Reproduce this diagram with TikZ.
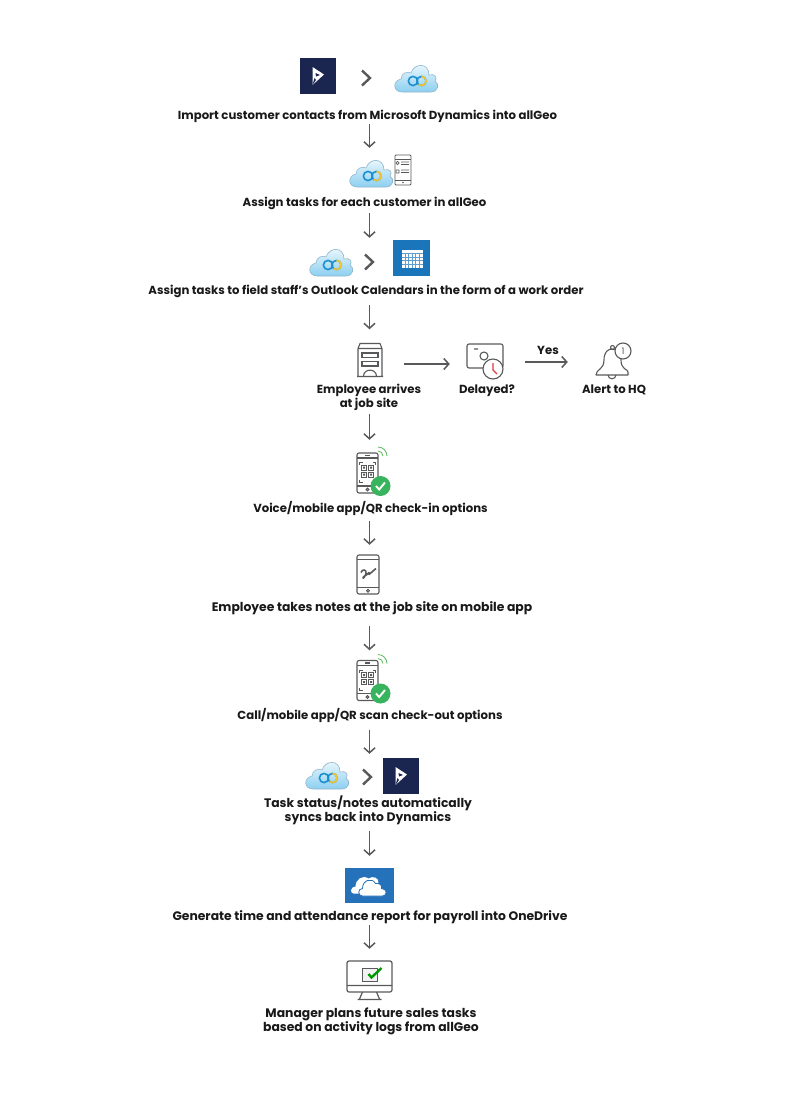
\documentclass[tikz,border=0pt]{standalone}
\usepackage{fontspec}
\setmainfont{Poppins}
\usetikzlibrary{arrows.meta}
\definecolor{linegray}{HTML}{58595B}
\definecolor{navy}{HTML}{1A2550}
\definecolor{msblue}{HTML}{1A75BB}
\definecolor{drive}{HTML}{2672BA}
\definecolor{okgreen}{HTML}{38B35E}
\definecolor{cloudtop}{HTML}{F2FAFE}
\definecolor{cloudlow}{HTML}{8CCFF0}
\definecolor{cloudline}{HTML}{8FB6CC}
\definecolor{ringblue}{HTML}{1C8FD0}
\definecolor{ringgold}{HTML}{F7C52B}
\definecolor{wifigreen}{HTML}{5CB85C}
\definecolor{handred}{HTML}{E0393E}
\tikzset{
  pics/geocloud/.style={code={
    \path[draw=cloudline, line width=0.6pt, top color=cloudtop, bottom color=cloudlow]
      (-14,14) .. controls (-23,14) and (-24,3) .. (-15,1)
      .. controls (-15,-5) and (-8,-7) .. (-5,-5)
      .. controls (-2,-15) and (13,-16) .. (13,-3)
      .. controls (19,-5) and (22,0) .. (19,3)
      .. controls (24,6) and (22,14) .. (15,14) -- cycle;
    \draw[line width=1.6pt, ringblue] (-3,3) circle[radius=4.6];
    \draw[line width=1.6pt, ringblue] (5.5,3) circle[radius=4.6];
    \draw[line width=1.6pt, ringgold] (5.5,-1.6) arc[start angle=-90, end angle=130, radius=4.6];
  }},
  pics/dynlogo/.style={code={
    \fill[navy] (-18,-18) rectangle (18,18);
    \fill[white] (-5.5,-9) -- (6,-1.5) -- (-5.5,9) -- cycle;
    \fill[navy] (-2.5,-3) -- (2,-1) -- (-2,0.5) -- cycle;
    \fill[navy] (-5.5,9) -- (-3.5,2) -- (-2,4) -- cycle;
  }},
  pics/nextmark/.style={code={
    \draw[linegray, line width=2.4pt] (-4,-7.5) -- (4,0) -- (-4,7.5);
  }},
  pics/listphone/.style={code={
    \draw[linegray, line width=0.8pt, rounded corners=1pt] (-8,-15) rectangle (8,15);
    \draw[linegray, line width=0.8pt] (-8,-11) -- (8,-11) (-8,10) -- (8,10);
    \draw[linegray, line width=0.7pt] (-5.5,-7) circle[radius=1.6] (-2,-8) -- (6,-8) (-2,-5.5) -- (6,-5.5)
      (-7,0) rectangle (-4,3) (-2,0) -- (6,0) (-2,2.5) -- (6,2.5);
    \fill[linegray] (0,12.5) circle[radius=0.9];
  }},
  pics/calendarlogo/.style={code={
    \fill[msblue] (-18.5,-18) rectangle (18.5,18);
    \fill[white] (-10,-8.5) rectangle (11.5,10);
    \foreach \gx in {-6.5,-3,0.5,4,7.5} {\draw[msblue!70, line width=0.5pt] (\gx,-4.5) -- (\gx,10);}
    \foreach \gy in {-4.5,-1,2.5,6} {\draw[msblue!70, line width=0.5pt] (-10,\gy) -- (11.5,\gy);}
  }},
  pics/officeblock/.style={code={
    \draw[linegray, line width=1.1pt] (-13,16.5) -- (13,16.5) (-12,16.5) -- (-12,-11.5) -- (-10,-16.5) -- (10,-16.5) -- (12,-11.5) -- (12,16.5) (-12,-11.5) -- (12,-11.5);
    \draw[linegray, line width=1.1pt] (-8,-7) rectangle (8,-2.5) (-8,1.5) rectangle (8,6);
    \draw[linegray, line width=1.1pt] (-6.5,16.5) .. controls (-6.5,8) and (6.5,8) .. (6.5,16.5);
  }},
  pics/latecard/.style={code={
    \draw[linegray, line width=1.1pt, rounded corners=2pt] (-18,-18) rectangle (18,6);
    \draw[linegray, line width=1.1pt] (-11,-13) -- (-7,-13) (-1,-6) circle[radius=4];
    \draw[linegray, line width=1.1pt, fill=white] (8,7) circle[radius=10];
    \draw[handred, line width=1.3pt] (8,1) -- (8,8) -- (12,12);
  }},
  pics/alertbell/.style={code={
    \draw[linegray, line width=1.1pt, line join=round] (-16,13) .. controls (-16,7) and (-8,8) .. (-8,-2)
      .. controls (-8,-10) and (-4,-13) .. (0,-13) .. controls (4,-13) and (9,-10) .. (9,-2)
      .. controls (9,8) and (16,7) .. (16,10) -- (16,13) -- cycle;
    \draw[linegray, line width=1.1pt] (0.5,-14.5) circle[radius=2];
    \draw[linegray, line width=1.1pt] (-4,13) .. controls (-4,18) and (4,18) .. (4,13);
    \draw[linegray, line width=1.1pt, fill=white] (11,-11) circle[radius=8];
  }},
  pics/qrphone/.style={code={
    \draw[linegray, line width=1.1pt, rounded corners=2pt] (-10.5,-20) rectangle (10.5,20);
    \draw[linegray, line width=1.1pt] (-10.5,-15) -- (10.5,-15) (-10.5,13) -- (10.5,13) (-2.5,-17.5) -- (2.5,-17.5);
    \draw[linegray, line width=1pt] (0,16.5) circle[radius=1.4];
    \draw[linegray, line width=0.6pt] (-8,-8) -- (-8,-10.5) -- (-5,-10.5) (5,-10.5) -- (8,-10.5) -- (8,-8) (-8,7) -- (-8,9.5) -- (-5,9.5);
    \draw[linegray, line width=0.8pt] (-6,-8) rectangle (-1,-3) (1,-8) rectangle (6,-3) (-6,-1) rectangle (-1,4) (1,-1) rectangle (6,4);
    \fill[linegray] (-4.5,-6.5) rectangle (-2.5,-4.5) (2.5,-6.5) rectangle (4.5,-4.5) (-4.5,0.5) rectangle (-2.5,2.5) (2.5,0.5) rectangle (4.5,2.5);
    \draw[wifigreen, line width=0.8pt] (10.5,-22) arc[start angle=-90, end angle=0, radius=5];
    \draw[wifigreen, line width=0.8pt] (10.5,-26) arc[start angle=-90, end angle=0, radius=9];
    \fill[okgreen] (13,13) circle[radius=10];
    \draw[white, line width=1.9pt] (8.5,13) -- (11.7,16.5) -- (17.5,9.5);
  }},
  pics/signphone/.style={code={
    \draw[linegray, line width=1.1pt, rounded corners=2pt] (-11,-19.5) rectangle (11,19.5);
    \draw[linegray, line width=1.1pt] (-11,-15) -- (11,-15) (-11,13) -- (11,13);
    \draw[linegray, line width=1pt] (0,16.3) circle[radius=1.4];
    \draw[linegray, line width=1.6pt, line join=round] (-7,-2) .. controls (-6,-6) and (-1,-5) .. (-2,-1)
      .. controls (-3,2) and (-5,5) .. (-5,3) .. controls (-5,1) and (-2,2) .. (1,-2) -- (1,0) -- (8,-6);
  }},
  pics/drivelogo/.style={code={
    \fill[drive] (-24.5,-17.5) rectangle (24.5,17.5);
    \fill[white] (-16,8) .. controls (-20,8) and (-19,1) .. (-14,1) .. controls (-14,-6) and (-7,-11) .. (-1,-7)
      .. controls (3,-10) and (10,-8) .. (9,-2) -- (0,8) -- cycle;
    \fill[white, draw=drive, line width=0.8pt] (-7,10.5) .. controls (-12,10.5) and (-12,3) .. (-7,3)
      .. controls (-7,-6) and (3,-8) .. (6,-2) .. controls (10,-3) and (13,0) .. (12,3) .. controls (18,3) and (18,10.5) .. (13,10.5) -- cycle;
  }},
  pics/checkscreen/.style={code={
    \draw[linegray, line width=1.2pt, rounded corners=2pt] (-22.5,-19) rectangle (22.5,12);
    \draw[linegray, line width=1.2pt] (-22.5,5.5) -- (22.5,5.5) (-7,12) -- (-10,19) (7,12) -- (10,19) (-12,19.5) -- (12,19.5);
    \draw[linegray, line width=0.8pt, fill=black!5] (-7.5,-12) rectangle (7.5,1);
    \draw[green!60!black, line width=2.4pt] (-1,-6) -- (2,-2.5) -- (12,-12);
  }}
}
\begin{document}
\begin{tikzpicture}[x=1pt, y=-1pt, >={Straight Barb[length=5pt, width=11pt]},
    caption/.style={inner sep=0pt, minimum height=15pt, align=center, font=\fontsize{11.7}{14}\selectfont\bfseries, text=black!90},
    widecaption/.style={caption, font=\fontsize{12.35}{14}\selectfont\bfseries},
    iconbox/.style={inner sep=0pt},
    flow/.style={->, linegray, line width=1.5pt}]
    \useasboundingbox (0,0) rectangle (792,1093);
    \coordinate (spine) at (369.5,0);

    % first row
    \node[iconbox, minimum width=36pt, minimum height=36pt] (dynone) at (318,76) {};
    \pic at (dynone) {dynlogo};
    \pic at (366,78) {nextmark};
    \node[iconbox, minimum width=43pt, minimum height=28pt] (cloudone) at (416,78) {};
    \pic at (cloudone) {geocloud};
    \node[caption] (import) at (367.5,116.5) {Import customer contacts from Microsoft Dynamics into allGeo};

    \node[iconbox, minimum width=43pt, minimum height=30pt] (cloudtwo) at (371,173) {};
    \pic at (cloudtwo) {geocloud};
    \node[iconbox, minimum width=16pt, minimum height=30pt] (listphone) at (403,170) {};
    \pic at (listphone) {listphone};
    \node[caption] (assign) at (364.5,203.5) {Assign tasks for each customer in allGeo};

    \node[iconbox, minimum width=43pt, minimum height=28pt] (cloudthree) at (331,262) {};
    \pic at (cloudthree) {geocloud};
    \pic at (369,262) {nextmark};
    \node[iconbox, minimum width=37pt, minimum height=36pt] (outlook) at (411.5,258) {};
    \pic at (outlook) {calendarlogo};
    \node[caption] (calendar) at (366,291.5) {Assign tasks to field staff's Outlook Calendars in the form of a work order};

    % job site row
    \node[iconbox, minimum width=26pt, minimum height=33pt] (building) at (370,360) {};
    \pic at (building) {officeblock};
    \node[iconbox, minimum width=36pt, minimum height=36pt] (delayed) at (485,362) {};
    \pic at (delayed) {latecard};
    \node[iconbox, minimum width=32pt, minimum height=36pt] (bell) at (612,362) {};
    \pic at (bell) {alertbell};
    \node[inner sep=0pt, font=\fontsize{9}{9}\selectfont, text=linegray] (bellcount) at (623,351) {1};
    \node[caption] (arrives) at (369,397.5) {Employee arrives\\at job site};
    \node[caption] (late) at (487,390.8) {Delayed?};
    \node[caption] (alert) at (614,389.7) {Alert to HQ};
    \node[caption] (yes) at (548,350) {Yes};

    \node[iconbox, minimum width=21pt, minimum height=40pt] (qrin) at (367.5,473) {};
    \pic at (qrin) {qrphone};
    \node[caption] (checkin) at (370.5,508) {Voice/mobile app/QR check-in options};

    \node[iconbox, minimum width=22pt, minimum height=39pt] (sign) at (368,574.5) {};
    \pic at (sign) {signphone};
    \node[widecaption] (notes) at (372,607.7) {Employee takes notes at the job site on mobile app};

    \node[iconbox, minimum width=21pt, minimum height=40pt] (qrout) at (367.5,680.5) {};
    \pic at (qrout) {qrphone};
    \node[caption] (checkout) at (370,715) {Call/mobile app/QR scan check-out options};

    \node[iconbox, minimum width=43pt, minimum height=28pt] (cloudfour) at (327,775) {};
    \pic at (cloudfour) {geocloud};
    \pic at (367,777) {nextmark};
    \node[iconbox, minimum width=36pt, minimum height=36pt] (dyntwo) at (401,776) {};
    \pic at (dyntwo) {dynlogo};
    \node[widecaption] (syncs) at (368,810) {Task status/notes automatically\\syncs back into Dynamics};

    \node[iconbox, minimum width=49pt, minimum height=35pt] (onedrive) at (369.5,885.5) {};
    \pic at (onedrive) {drivelogo};
    \node[widecaption] (report) at (370,916.7) {Generate time and attendance report for payroll into OneDrive};

    \node[iconbox, minimum width=45pt, minimum height=38pt] (screen) at (369.5,980) {};
    \pic at (screen) {checkscreen};
    \node[widecaption] (manager) at (371,1021.5) {Manager plans future sales tasks\\based on activity logs from allGeo};

    \draw[flow, shorten >=10pt] (spine |- import.south) -- (spine |- cloudtwo.north);
    \draw[flow, shorten <=2pt, shorten >=2pt] (spine |- assign.south) -- (spine |- outlook.north);
    \draw[flow, shorten <=6pt, shorten >=14pt] (spine |- calendar.south) -- (spine |- building.north);
    \draw[flow, shorten <=3pt, shorten >=13pt] (spine |- arrives.south) -- (spine |- qrin.north);
    \draw[flow, shorten <=5pt, shorten >=10pt] (spine |- checkin.south) -- (spine |- sign.north);
    \draw[flow, shorten <=11pt, shorten >=10pt] (spine |- notes.south) -- (spine |- qrout.north);
    \draw[flow, shorten <=7pt, shorten >=4pt] (spine |- checkout.south) -- (spine |- dyntwo.north);
    \draw[flow, shorten <=6pt, shorten >=12pt] (spine |- syncs.south) -- (spine |- onedrive.north);
    \draw[flow, shorten <=1pt, shorten >=12pt] (spine |- report.south) -- (spine |- screen.north);
    \draw[flow, shorten <=21pt, shorten >=17pt] (building.east |- 0,364) -- (delayed.west |- 0,364);
    \draw[flow, shorten <=22pt, shorten >=28pt] (delayed.east) -- (bell.west);
\end{tikzpicture}
\end{document}
